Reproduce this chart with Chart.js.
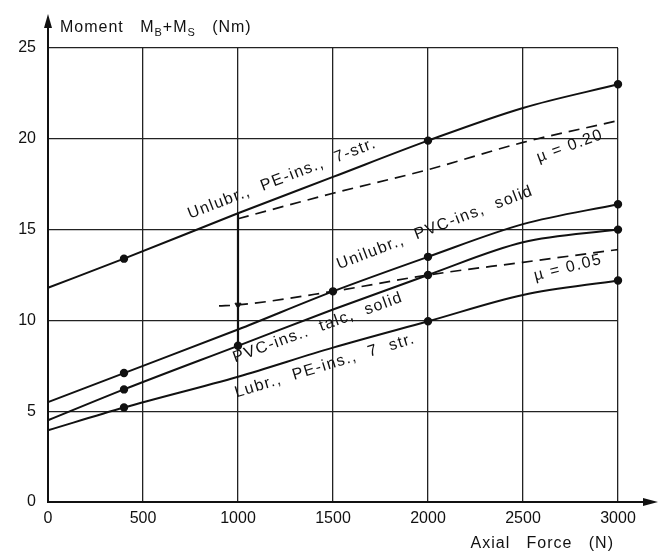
<!DOCTYPE html>
<html>
<head>
<meta charset="utf-8">
<script src="https://cdn.jsdelivr.net/npm/chart.js@4.4.1/dist/chart.umd.min.js"></script>
<style>
  html, body { margin: 0; padding: 0; background: #fff; }
  #wrap { width: 659px; height: 551px; }
</style>
</head>
<body>
<div id="wrap"><canvas id="chart"></canvas></div>
<script>
// Values (Axial force N -> Moment Nm)
const forceSteps = [0, 400, 1000, 1500, 2000, 2500, 3000];
const unlubrPE7str = [11.8, 13.4, 15.9, 17.9, 19.9, 21.7, 23.0];
const unlubrPVCsolid = [5.5, 7.1, 9.5, 11.6, 13.5, 15.3, 16.4];
const talcPVCsolid = [4.5, 6.2, 8.6, 10.6, 12.5, 14.3, 15.0];
const lubrPE7str = [3.95, 5.2, 6.9, 8.5, 9.95, 11.4, 12.2];

const mu020Force = [1000, 1500, 2000, 2500, 3000];
const mu020 = [15.6, 17.0, 18.3, 19.8, 21.0];
const mu005Force = [900, 1000, 1500, 2000, 2500, 3000];
const mu005 = [10.8, 10.85, 11.6, 12.5, 13.2, 13.9];

const linkForce = [1000, 1000];
const linkMoment = [15.9, 8.6];

const xTicks = [0, 500, 1000, 1500, 2000, 2500, 3000];
const yTicks = [0, 5, 10, 15, 20, 25];

// which points carry a dot
const dotsTop = [0, 1, 0, 0, 1, 0, 1];
const dotsPVC = [0, 1, 0, 1, 1, 0, 1];
const dotsTalc = [0, 1, 1, 0, 1, 0, 1];
const dotsLubr = [0, 1, 0, 0, 1, 0, 1];

const ink = '#111';
const font = '"Liberation Sans", Arial, sans-serif';

const pts = (xs, ys) => xs.map((x, i) => ({ x: x, y: ys[i] }));

function curve(ys, dots) {
  return {
    data: pts(forceSteps, ys),
    borderColor: ink,
    backgroundColor: ink,
    borderWidth: 2,
    cubicInterpolationMode: 'monotone',
    pointRadius: dots.map(d => d ? 3.2 : 0),
    pointHoverRadius: 0,
    clip: false
  };
}

function dashed(xs, ys) {
  return {
    data: pts(xs, ys),
    borderColor: ink,
    borderWidth: 1.7,
    borderDash: [11, 7],
    cubicInterpolationMode: 'monotone',
    pointRadius: 0
  };
}

// text written along the curves, anchored in data units
const curveLabels = [
  { text: 'Unlubr.,  PE-ins.,  7-str.', x: 1232, y: 17.8, angle: -21 },
  { text: 'Unilubr.,  PVC-ins,  solid', x: 2037, y: 15.1, angle: -21 },
  { text: 'PVC-ins..  talc,  solid', x: 1421, y: 9.6, angle: -20 },
  { text: 'Lubr.,  PE-ins.,  7  str.', x: 1458, y: 7.5, angle: -17 },
  { text: '\u00b5 = 0.20', x: 2747, y: 19.6, angle: -20 },
  { text: '\u00b5 = 0.05', x: 2737, y: 12.9, angle: -14 }
];

const decorations = {
  id: 'decorations',
  afterDraw(chart) {
    const c = chart.ctx;
    const xs = chart.scales.x, ys = chart.scales.y;
    const x0 = xs.getPixelForValue(0), y0 = ys.getPixelForValue(0);
    const yTop = ys.getPixelForValue(25), xEnd = xs.getPixelForValue(3000);
    c.save();
    c.strokeStyle = ink;
    c.fillStyle = ink;
    c.lineWidth = 2;
    // axis extensions with arrows
    c.beginPath();
    c.moveTo(x0, yTop); c.lineTo(x0, yTop - 26);
    c.moveTo(xEnd, y0); c.lineTo(xEnd + 30, y0);
    c.stroke();
    c.beginPath();
    c.moveTo(x0, yTop - 34); c.lineTo(x0 - 4, yTop - 20); c.lineTo(x0 + 4, yTop - 20); c.closePath();
    c.fill();
    c.beginPath();
    c.moveTo(xEnd + 40, y0); c.lineTo(xEnd + 25, y0 - 4); c.lineTo(xEnd + 25, y0 + 4); c.closePath();
    c.fill();

    // curve labels
    c.textAlign = 'center';
    c.textBaseline = 'middle';
    c.font = '16px ' + font;
    c.letterSpacing = '1.4px';
    curveLabels.forEach(l => {
      c.save();
      c.translate(xs.getPixelForValue(l.x), ys.getPixelForValue(l.y));
      c.rotate(l.angle * Math.PI / 180);
      c.fillText(l.text, 0, 0);
      c.restore();
    });

    // y-axis title with subscripts
    c.letterSpacing = '1px';
    c.textAlign = 'left';
    c.textBaseline = 'alphabetic';
    let tx = x0 + 12;
    const ty = yTop - 16;
    const part = (t, size, dy) => {
      c.font = size + 'px ' + font;
      c.fillText(t, tx, ty + dy);
      tx += c.measureText(t).width;
    };
    part('Moment   M', 16, 0);
    part('B', 11, 4);
    part('+M', 16, 0);
    part('S', 11, 4);
    part('   (Nm)', 16, 0);

    // x-axis title
    c.font = '16px ' + font;
    c.textAlign = 'right';
    c.fillText('Axial   Force   (N)', xEnd - 4, y0 + 46);
    c.restore();
  }
};

new Chart(document.getElementById('chart'), {
  type: 'line',
  data: {
    datasets: [
      curve(unlubrPE7str, dotsTop),
      curve(unlubrPVCsolid, dotsPVC),
      curve(talcPVCsolid, dotsTalc),
      curve(lubrPE7str, dotsLubr),
      dashed(mu020Force, mu020),
      dashed(mu005Force, mu005),
      { data: pts(linkForce, linkMoment), borderColor: ink, borderWidth: 2.2, pointRadius: 0 },
      { data: pts([mu005Force[1]], [mu005[1]]), pointRadius: 3.5, pointStyle: 'triangle', rotation: 180,
        backgroundColor: ink, borderColor: ink, showLine: false }
    ]
  },
  options: {
    responsive: true,
    maintainAspectRatio: false,
    animation: false,
    layout: { padding: { top: 48, right: 41, left: 0, bottom: 0 } },
    plugins: { legend: { display: false }, tooltip: { enabled: false } },
    scales: {
      x: {
        type: 'linear',
        min: 0,
        max: 3000,
        afterBuildTicks: s => { s.ticks = xTicks.map(v => ({ value: v })); },
        afterFit: s => { s.height = 49; },
        grid: { color: '#222', lineWidth: 1.3, drawTicks: false },
        border: { color: ink, width: 2 },
        ticks: { color: ink, padding: 7, font: { family: font, size: 16 }, callback: v => String(v) }
      },
      y: {
        min: 0,
        max: 25,
        afterBuildTicks: s => { s.ticks = yTicks.map(v => ({ value: v })); },
        afterFit: s => { s.width = 48; },
        grid: { color: '#222', lineWidth: 1.3, drawTicks: false },
        border: { color: ink, width: 2 },
        ticks: { color: ink, padding: 12, font: { family: font, size: 16 }, callback: v => String(v) }
      }
    }
  },
  plugins: [decorations]
});
</script>
</body>
</html>
